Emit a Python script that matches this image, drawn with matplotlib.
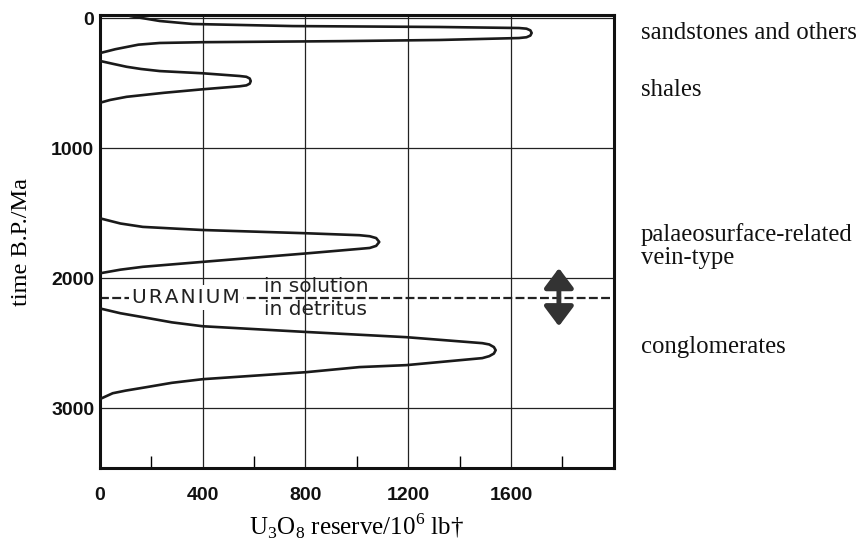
import numpy as np
import matplotlib
matplotlib.use('Agg')
import matplotlib.pyplot as plt
from matplotlib.ticker import MultipleLocator

#outline of each reserve peak, upper branch then lower branch
sand_x = [117, 233, 361, 750, 1320, 1631, 1660, 1675, 1680, 1675, 1660, 1631, 1320, 932, 600, 400, 233, 150, 60, 0]
sand_y = [-15, 23, 46, 62, 69, 77, 82, 95, 115, 135, 148, 154, 169, 178, 183, 186, 192, 205, 240, 270]

shale_x = [0, 50, 104, 160, 233, 400, 544, 570, 583, 587, 583, 570, 544, 400, 250, 104, 40, 0]
shale_y = [330, 352, 375, 392, 408, 425, 446, 452, 465, 485, 505, 518, 525, 548, 575, 606, 630, 652]

vein_x = [0, 80, 167, 300, 400, 803, 1010, 1050, 1075, 1087, 1075, 1050, 1010, 803, 400, 167, 80, 0]
vein_y = [1540, 1580, 1606, 1620, 1630, 1655, 1670, 1678, 1692, 1722, 1752, 1768, 1775, 1810, 1875, 1913, 1935, 1963]

cong_x = [0, 80, 167, 280, 400, 803, 1192, 1488, 1515, 1533, 1540, 1533, 1515, 1488, 1192, 1010, 803, 400, 280, 182, 100, 50, 0]
cong_y = [2233, 2270, 2300, 2340, 2370, 2414, 2454, 2500, 2510, 2530, 2554, 2580, 2600, 2615, 2669, 2684, 2723, 2777, 2805, 2838, 2865, 2885, 2930]

#labels on the right and their time positions
labels = ['sandstones and others', 'shales', 'palaeosurface-related\nvein-type', 'conglomerates']
label_y = [115, 554, 1750, 2530]

uranium_y = 2150  #solution/detritus boundary
arrow_x = 1786
arrow_top, arrow_bot = 1923, 2370

fig = plt.figure(figsize=(8.61, 5.42), dpi=100)
ax = fig.add_axes([0.116, 0.1365, 0.597, 0.8358])

for xs, ys in [(sand_x, sand_y), (shale_x, shale_y), (vein_x, vein_y), (cong_x, cong_y)]:
    ax.plot(xs, ys, color='#1a1a1a', lw=1.9, solid_joinstyle='round', solid_capstyle='round', zorder=3)

ax.set_xlim(0, 2000)
ax.set_ylim(3460, -23)

ax.xaxis.set_major_locator(MultipleLocator(400))
ax.xaxis.set_minor_locator(MultipleLocator(200))
ax.yaxis.set_major_locator(MultipleLocator(1000))
ax.grid(True, which='major', color='#222222', lw=0.9)
ax.set_xticks([0, 400, 800, 1200, 1600])
ax.tick_params(axis='both', which='major', length=0, labelsize=14)
ax.tick_params(axis='x', which='major', pad=14)
ax.tick_params(axis='y', which='major', pad=4)
ax.tick_params(axis='x', which='minor', direction='in', length=9, width=1, top=False)
for lab in ax.get_xticklabels() + ax.get_yticklabels():
    lab.set_fontfamily(['Liberation Sans', 'DejaVu Sans'])
    lab.set_fontweight('bold')
    lab.set_color('#111111')
for s in ax.spines.values():
    s.set_linewidth(2.2)
    s.set_color('#111111')

#uranium boundary line
ax.plot([0, 2000], [uranium_y, uranium_y], color='#222222', lw=1.6, ls=(0, (4, 1.5)), zorder=2)
ax.text(335, uranium_y, '\u200a'.join('URANIUM'), ha='center', va='center', fontsize=14.5,
        color='#222222', family='DejaVu Sans',
        bbox=dict(facecolor='white', edgecolor='none', pad=2), zorder=4)
ax.text(640, uranium_y - 15, 'in solution', ha='left', va='bottom', fontsize=14.5, color='#222222',
        family='DejaVu Sans', zorder=4)
ax.text(640, uranium_y + 15, 'in detritus', ha='left', va='top', fontsize=14.5, color='#222222',
        family='DejaVu Sans', zorder=4)

ax.annotate('', xy=(arrow_x, arrow_top), xytext=(arrow_x, arrow_bot),
            arrowprops=dict(arrowstyle='<|-|>,head_length=0.6,head_width=0.45', mutation_scale=20,
                            lw=3.5, color='#333333', shrinkA=0, shrinkB=0), zorder=5)

for lab, yy in zip(labels, label_y):
    ax.text(2105, yy, lab, ha='left', va='center', fontsize=17.8, family='Liberation Serif',
            color='#111111', linespacing=1.05, clip_on=False)

ax.set_xlabel(r'U$_\mathregular{3}$O$_\mathregular{8}$ reserve/10$^\mathregular{6}$ lb†',
              fontsize=18, family='Liberation Serif', labelpad=5)
ax.set_ylabel('time B.P./Ma', fontsize=17.5, family='Liberation Serif', labelpad=14)

plt.savefig('out.png', dpi=100)
